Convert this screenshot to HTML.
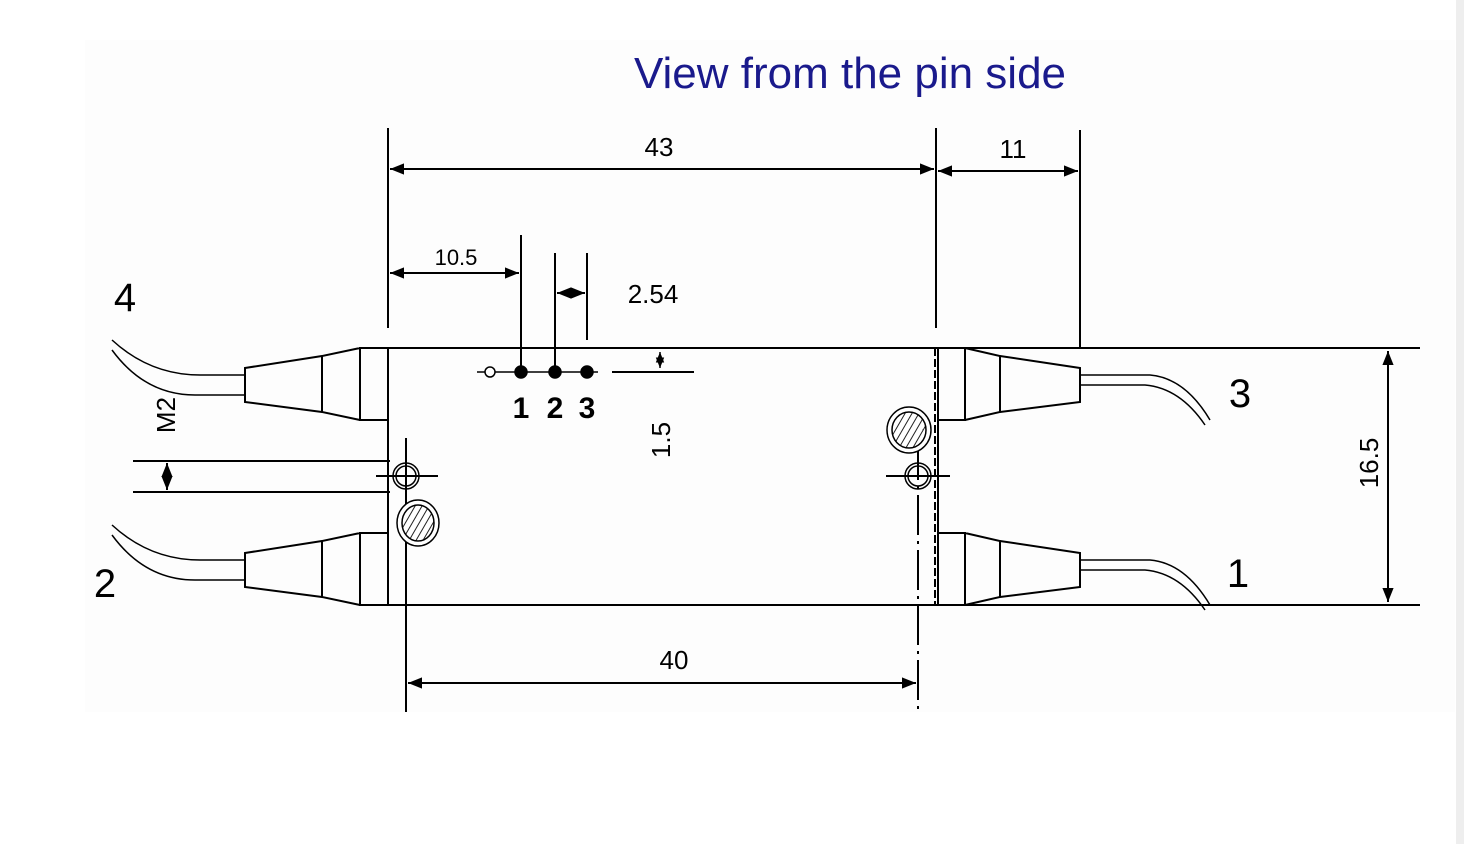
<!DOCTYPE html>
<html><head><style>body{margin:0;background:#fff}svg{display:block}</style></head><body>
<svg width="1464" height="844" viewBox="0 0 1464 844" xmlns="http://www.w3.org/2000/svg">
<defs>
<marker id="a" viewBox="0 0 10 10" refX="10" refY="5" markerWidth="9" markerHeight="7" orient="auto-start-reverse"><path d="M0,1 L10,5 L0,9 Z" fill="#000"/></marker>
<pattern id="h" width="6" height="6" patternUnits="userSpaceOnUse" patternTransform="rotate(30)"><line x1="0" y1="0" x2="0" y2="6" stroke="#222" stroke-width="2"/></pattern>
</defs>
<rect x="85" y="40" width="1370" height="672" fill="#fdfdfd"/>
<rect x="1456" y="0" width="8" height="844" fill="#eee"/>
<text x="850" y="88" font-family="Liberation Sans, sans-serif" font-size="44" fill="#1a1a8c" text-anchor="middle">View from the pin side</text>
<g stroke="#000" stroke-width="2" fill="none">
<rect x="388" y="348" width="550" height="257"/>
<line x1="935" y1="348" x2="935" y2="605" stroke-dasharray="8,3"/>
<line x1="938" y1="348" x2="1420" y2="348"/>
<line x1="938" y1="605" x2="1420" y2="605"/>
<line x1="388" y1="128" x2="388" y2="328"/>
<line x1="936" y1="128" x2="936" y2="328"/>
<line x1="1080" y1="130" x2="1080" y2="348"/>
<line x1="390" y1="169" x2="934" y2="169" marker-start="url(#a)" marker-end="url(#a)"/>
<line x1="938" y1="171" x2="1078" y2="171" marker-start="url(#a)" marker-end="url(#a)"/>
<line x1="521" y1="235" x2="521" y2="370"/>
<line x1="555" y1="253" x2="555" y2="370"/>
<line x1="587" y1="253" x2="587" y2="340"/>
<line x1="390" y1="273" x2="519" y2="273" marker-start="url(#a)" marker-end="url(#a)"/>
<line x1="557" y1="293" x2="585" y2="293" marker-start="url(#a)" marker-end="url(#a)"/>
<line x1="477" y1="372" x2="598" y2="372" stroke-width="1.5"/>
<line x1="612" y1="372" x2="694" y2="372"/>
<line x1="660" y1="352" x2="660" y2="368" marker-start="url(#a)" marker-end="url(#a)" stroke-width="1.5"/>
<line x1="133" y1="461" x2="390" y2="461"/>
<line x1="133" y1="492" x2="390" y2="492"/>
<line x1="167" y1="463" x2="167" y2="490" marker-start="url(#a)" marker-end="url(#a)"/>
<line x1="1388" y1="351" x2="1388" y2="602" marker-start="url(#a)" marker-end="url(#a)"/>
<line x1="406" y1="438" x2="406" y2="712"/>
<line x1="918" y1="440" x2="918" y2="712" stroke-dasharray="40,6,3,6"/>
<line x1="408" y1="683" x2="916" y2="683" marker-start="url(#a)" marker-end="url(#a)"/>
<line x1="376" y1="476" x2="438" y2="476"/>
<line x1="886" y1="476" x2="950" y2="476"/>
</g>
<g stroke="#000" stroke-width="1.5" fill="#fff">
<circle cx="490" cy="372" r="5"/>
<circle cx="521" cy="372" r="6" fill="#000"/>
<circle cx="555" cy="372" r="6" fill="#000"/>
<circle cx="587" cy="372" r="6" fill="#000"/>
<circle cx="406" cy="476" r="13" fill="none"/><circle cx="406" cy="476" r="10" fill="none"/>
<circle cx="918" cy="476" r="13" fill="none"/><circle cx="918" cy="476" r="10" fill="none"/>
<ellipse cx="418" cy="523" rx="21" ry="23"/><ellipse cx="418" cy="523" rx="16" ry="18" fill="url(#h)"/>
<ellipse cx="909" cy="430" rx="22" ry="23"/><ellipse cx="909" cy="430" rx="17" ry="18" fill="url(#h)"/>
</g>
<g stroke="#000" stroke-width="2" fill="none">
<g id="L">
<path d="M388,348 H360 V420 H388 M360,348 L322,356 V412 L360,420 M322,356 L245,368 V402 L322,412"/>
<path d="M245,375 H200 Q150,375 112,340 M245,395 H195 Q145,395 112,350" stroke-width="1.5"/>
</g>
<use href="#L" y="185"/>
<g id="R">
<path d="M938,348 H965 V420 H938 M965,348 L1000,356 V412 L965,420 M1000,356 L1080,368 V402 L1000,412"/>
<path d="M1080,375 H1150 Q1185,378 1210,420 M1080,385 H1145 Q1180,388 1205,425" stroke-width="1.5"/>
</g>
<use href="#R" y="185"/>
</g>
<g font-family="Liberation Sans, sans-serif" fill="#000" text-anchor="middle">
<text x="659" y="156" font-size="26">43</text>
<text x="1013" y="158" font-size="26">11</text>
<text x="456" y="265" font-size="22">10.5</text>
<text x="653" y="303" font-size="26">2.54</text>
<text x="521" y="418" font-size="30" font-weight="bold">1</text>
<text x="555" y="418" font-size="30" font-weight="bold">2</text>
<text x="587" y="418" font-size="30" font-weight="bold">3</text>
<text x="674" y="669" font-size="26">40</text>
<text x="125" y="311" font-size="40">4</text>
<text x="105" y="597" font-size="40">2</text>
<text x="1240" y="407" font-size="40">3</text>
<text x="1238" y="587" font-size="40">1</text>
<text transform="translate(670,440) rotate(-90)" font-size="26">1.5</text>
<text transform="translate(1378,463) rotate(-90)" font-size="26">16.5</text>
<text transform="translate(175,415) rotate(-90)" font-size="26">M2</text>
</g>
</svg>
</body></html>
